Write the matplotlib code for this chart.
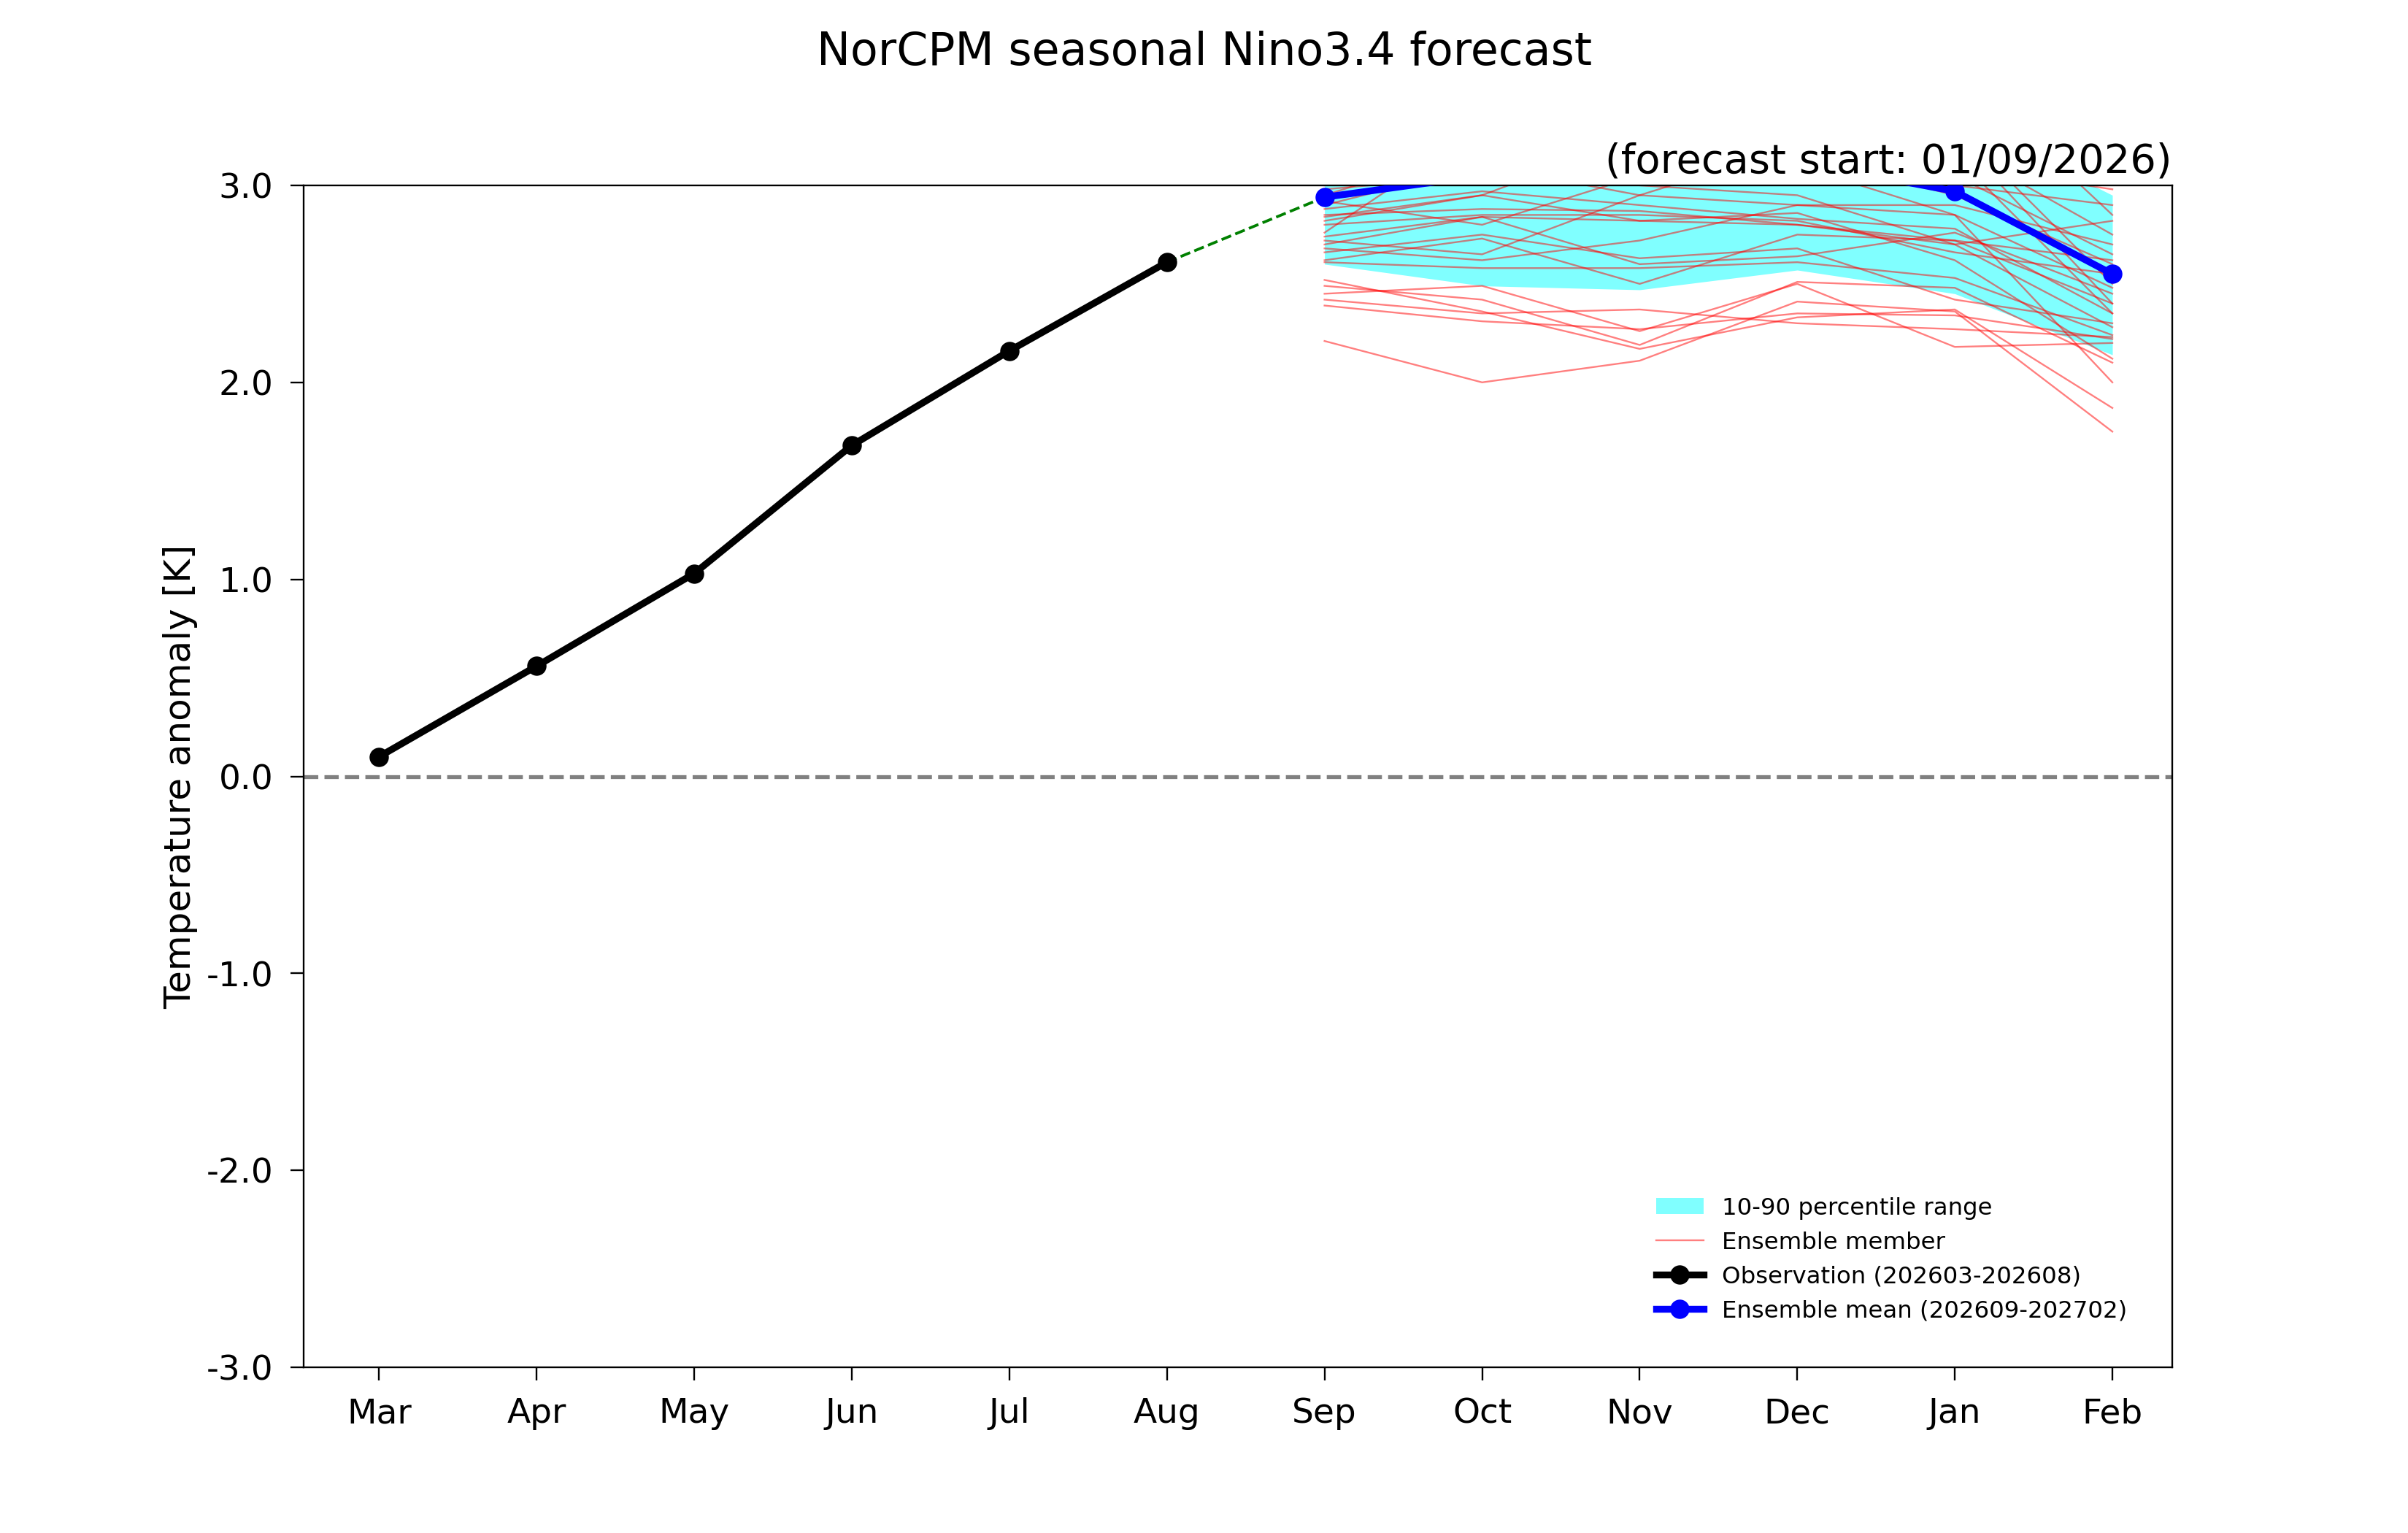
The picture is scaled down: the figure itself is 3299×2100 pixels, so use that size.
import matplotlib
matplotlib.use("Agg")
import matplotlib.pyplot as plt
import numpy as np

months = ["Mar","Apr","May","Jun","Jul","Aug","Sep","Oct","Nov","Dec","Jan","Feb"]
obs = [0.10, 0.56, 1.03, 1.68, 2.16, 2.61]
ens_mean = [2.94, 3.05, 3.12, 3.12, 2.97, 2.55]
p10 = [2.60, 2.49, 2.47, 2.57, 2.45, 2.14]
p90 = [3.30, 3.40, 3.45, 3.45, 3.35, 2.95]
members = [
    [2.21, 2.00, 2.11, 2.41, 2.36, 1.75],
    [2.39, 2.31, 2.27, 2.35, 2.34, 2.22],
    [2.42, 2.35, 2.37, 2.30, 2.27, 2.23],
    [2.45, 2.49, 2.26, 2.50, 2.18, 2.20],
    [2.52, 2.36, 2.17, 2.33, 2.37, 1.87],
    [2.49, 2.42, 2.19, 2.51, 2.48, 2.10],
    [2.61, 2.58, 2.58, 2.61, 2.53, 2.24],
    [2.62, 2.73, 2.50, 2.75, 2.72, 2.40],
    [2.66, 2.75, 2.63, 2.68, 2.42, 2.30],
    [2.70, 2.84, 2.60, 2.64, 2.76, 2.45],
    [2.74, 2.84, 2.82, 2.80, 2.70, 2.28],
    [2.80, 2.85, 2.85, 2.82, 2.66, 2.55],
    [2.84, 2.95, 2.82, 2.86, 2.62, 2.12],
    [2.85, 2.88, 2.87, 2.80, 2.72, 2.62],
    [2.88, 2.97, 2.90, 2.83, 2.78, 2.35],
    [2.90, 3.10, 2.95, 2.90, 2.90, 2.70],
    [2.92, 2.80, 3.05, 3.10, 2.85, 2.48],
    [2.95, 3.20, 3.00, 2.95, 2.70, 2.82],
    [2.98, 3.05, 3.20, 3.15, 2.95, 2.60],
    [3.00, 3.25, 3.30, 3.10, 3.00, 2.90],
    [3.05, 3.15, 3.10, 3.40, 3.20, 2.75],
    [3.10, 3.30, 3.40, 3.30, 3.10, 2.98],
    [3.15, 3.35, 3.35, 3.50, 3.30, 2.50],
    [3.20, 3.40, 3.50, 3.45, 3.40, 3.05],
    [2.76, 3.30, 3.50, 3.60, 3.25, 2.40],
    [3.25, 3.50, 3.60, 3.55, 3.50, 3.10],
    [2.82, 2.95, 3.25, 3.35, 3.05, 2.65],
    [2.72, 2.65, 2.95, 3.20, 3.15, 2.35],
    [2.68, 2.62, 2.72, 2.90, 2.85, 2.00],
    [3.30, 3.45, 3.30, 3.20, 3.60, 2.85],
]

x = np.arange(len(months))
xo = x[:6]
xf = x[6:]

fig = plt.figure(figsize=(15.6, 9.93), dpi=211.5)
ax = fig.add_axes([0.126, 0.108, 0.776, 0.771])
ax.fill_between(xf, p10, p90, color="#80ffff", lw=0, label="10-90 percentile range", zorder=1)
for i, m in enumerate(members):
    ax.plot(xf, m, color="red", lw=0.8, alpha=0.5, zorder=2,
            label="Ensemble member" if i == 0 else None)
ax.axhline(0, color="grey", ls="--", lw=1.8, zorder=0)
ax.plot([xo[-1], xf[0]], [obs[-1], ens_mean[0]], color="green", ls="--", lw=1.3, zorder=3)
ax.plot(xo, obs, color="black", lw=3.2, marker="o", ms=8, zorder=4,
        label="Observation (202603-202608)")
ax.plot(xf, ens_mean, color="blue", lw=3.2, marker="o", ms=8, zorder=5,
        label="Ensemble mean (202609-202702)")
ax.set_xlim(-0.48, 11.38)
ax.set_ylim(-3, 3)
ax.set_yticks(np.arange(-3, 3.1, 1))
ax.set_yticklabels([f"{v:.1f}" for v in np.arange(-3, 3.1, 1)])
ax.set_xticks(x)
ax.set_xticklabels(months)
ax.tick_params(labelsize=16, length=6, pad=8)
ax.set_ylabel("Temperature anomaly [K]", fontsize=17)
ax.set_title("(forecast start: 01/09/2026)", loc="right", fontsize=19, pad=6)
fig.suptitle("NorCPM seasonal Nino3.4 forecast", fontsize=21, y=0.98)
ax.legend(loc="lower right", fontsize=11, frameon=False, borderaxespad=1.5)
fig.savefig("out.png", dpi=211.5)
